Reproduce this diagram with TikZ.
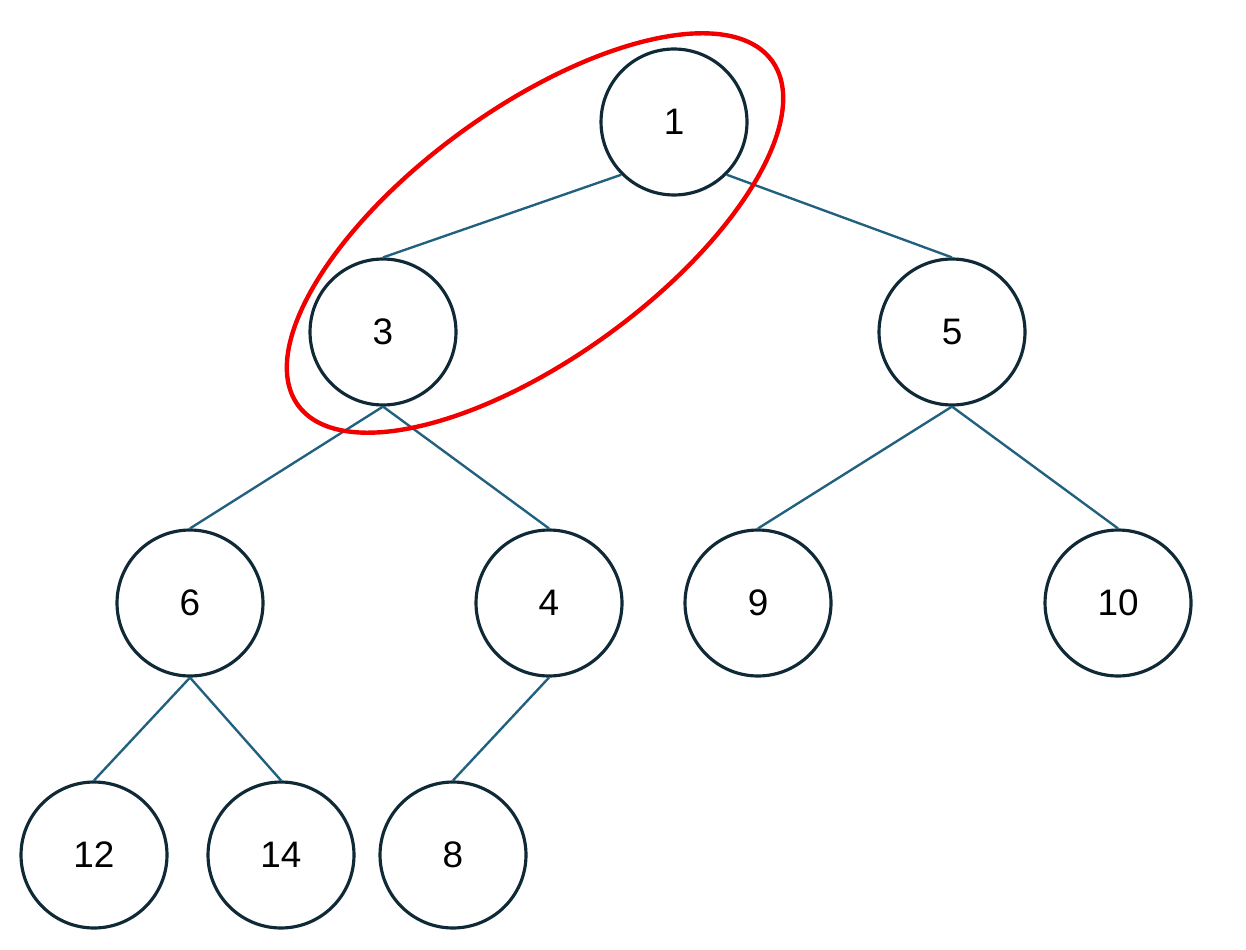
\documentclass[tikz,border=0pt]{standalone}
\usepackage{fontspec}
\setmainfont{Liberation Sans}
\usetikzlibrary{positioning}
\definecolor{nodeline}{HTML}{0F2A36}
\definecolor{edgeline}{HTML}{21617F}
\definecolor{markred}{HTML}{F20000}

\begin{document}
\begin{tikzpicture}[x=0.02cm, y=-0.02cm,
  every node/.style={font=\fontsize{21}{25}\selectfont},
  heapnode/.style={draw=nodeline, circle, line width=1.8pt, fill=white,
                   minimum size=2.92cm, inner sep=0pt},
  heapedge/.style={draw=edgeline, line width=1.35pt}]
  \useasboundingbox (0,0) rectangle (1246,949);
  % Level 0 and 1
  \node[heapnode] (n1)  at (674, 122) {1};
  \node[heapnode] (n3)  at (383, 332) {3};
  \node[heapnode] (n5)  at (952, 332) {5};
  % Level 2
  \node[heapnode] (n6)  at (190, 603) {6};
  \node[heapnode] (n4)  at (549, 603) {4};
  \node[heapnode] (n9)  at (758, 603) {9};
  \node[heapnode] (n10) at (1118, 603) {10};
  % Level 3
  \node[heapnode] (n12) at (94, 855) {12};
  \node[heapnode] (n14) at (281, 855) {14};
  \node[heapnode] (n8)  at (453, 855) {8};
  % Tree edges
  \draw[heapedge] (n1.south west) -- (n3.north);
  \draw[heapedge] (n1.south east) -- (n5.north);
  \draw[heapedge] (n3.south) -- (n6.north);
  \draw[heapedge] (n3.south) -- (n4.north);
  \draw[heapedge] (n5.south) -- (n9.north);
  \draw[heapedge] (n5.south) -- (n10.north);
  \draw[heapedge] (n6.south) -- (n12.north);
  \draw[heapedge] (n6.south) -- (n14.north);
  \draw[heapedge] (n4.south) -- (n8.north);
  % Highlight round the path 1 -- 3
  \begin{scope}[shift={(535,233)}, rotate=36]
    \draw[markred, line width=2.5pt] (0,0) ellipse [x radius=5.86cm, y radius=2.5cm];
  \end{scope}
\end{tikzpicture}
\end{document}
